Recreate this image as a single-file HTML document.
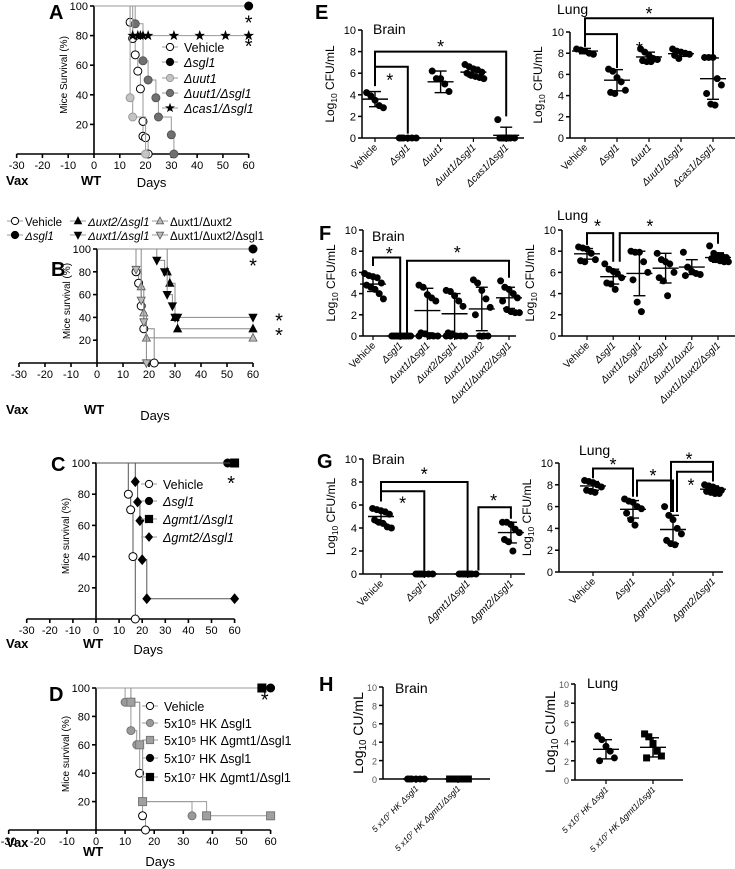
<!DOCTYPE html>
<html><head><meta charset="utf-8">
<style>
html,body{margin:0;padding:0;background:#fff;}
svg{display:block;font-family:"Liberation Sans",Arial,sans-serif;}
</style></head>
<body>
<svg id="fig" width="735" height="869" viewBox="0 0 735 869" xmlns="http://www.w3.org/2000/svg">
<g font-weight="bold" font-size="20" fill="#000">
<text x="49" y="19">A</text>
<text x="51" y="276">B</text>
<text x="51" y="471">C</text>
<text x="49" y="701">D</text>
<text x="315" y="19">E</text>
<text x="319" y="240">F</text>
<text x="317" y="468">G</text>
<text x="319" y="691">H</text>
</g>
</svg>
<script>
// ===== Survival data =====
const daysTicks = [-30,-20,-10,0,10,20,30,40,50,60];
const survTicks = [20,40,60,80,100];
// Panel A
const aNames = ["Vehicle","Δsgl1","Δuut1","Δuut1/Δsgl1","Δcas1/Δsgl1"];
const aVehT = [0,14,15,16,17,18,19,19,20,21], aVehV = [100,89,78,67,56,44,22,12,11,0];
const aSglT = [0,60], aSglV = [100,100];
const aUutT = [0,14,15,20], aUutV = [100,38,25,0];
const aUsT = [0,16,19,21,24,25,30,31], aUsV = [100,88,63,50,38,25,13,0];
const aCasT = [0,15,17,18,19,21,31,41,51,60], aCasV = [100,80,80,80,80,80,80,80,80,80];
// Panel B
const bNames = ["Vehicle","Δsgl1","Δuxt2/Δsgl1","Δuxt1/Δsgl1","Δuxt1/Δuxt2","Δuxt1/Δuxt2/Δsgl1"];
const bVehT = [0,15,16,17,18,22], bVehV = [100,80,70,50,30,0];
const bSglT = [0,60], bSglV = [100,100];
const bU2sT = [0,27,28,30,31,60], bU2sV = [100,80,70,40,30,30];
const bU1sT = [0,23,26,27,29,30,31,60], bU1sV = [100,90,80,60,50,40,40,40];
const bU12T = [0,17,18,19,60], bU12V = [100,67,44,22,22];
const bU12sT = [0,15,17,18,19], bU12sV = [100,82,55,36,0];
// Panel C
const cNames = ["Vehicle","Δsgl1","Δgmt1/Δsgl1","Δgmt2/Δsgl1"];
const cVehT = [0,14,15,16,17], cVehV = [100,80,70,40,0];
const cSglT = [0,57], cSglV = [100,100];
const cG1T = [0,60], cG1V = [100,100];
const cG2T = [0,17,18,19,20,22,60], cG2V = [100,88,75,63,38,13,13];
// Panel D
const dNames = ["Vehicle","5x10⁵ HK Δsgl1","5x10⁵ HK Δgmt1/Δsgl1","5x10⁷ HK Δsgl1","5x10⁷ HK  Δgmt1/Δsgl1"];
const dVehT = [0,12,15,16,17], dVehV = [100,90,40,10,0];
const dLsT = [0,10,12,14,16,33], dLsV = [100,90,70,60,20,10];
const dLgT = [0,12,15,16,38,60], dLgV = [100,90,60,20,10,10];
const dHsT = [0,60], dHsV = [100,100];
const dHgT = [0,57], dHgV = [100,100];

// ===== CFU data =====
const eBrainCats = ["Vehicle","Δsgl1","Δuut1","Δuut1/Δsgl1","Δcas1/Δsgl1"];
const eBrainPts = [[4.2,3.9,3.5,3.0,2.8],[0,0,0,0,0,0],[6.2,5.5,5.5,5.0,4.3],[6.8,6.6,6.4,6.3,6.1,6.0,5.8,5.7,5.6,5.5],[1.7,0,0,0,0,0,0,0]];
const eBrainMean = [3.6,0,5.2,6.1,0.25], eBrainSD = [0.7,0,1.0,0.45,0.75];
const eLungCats = eBrainCats;
const eLungPts = [[8.4,8.3,8.2,8.0,7.9],[6.5,6.3,5.7,5.3,4.5,4.3,4.2],[8.4,8.1,7.8,7.5,7.4,7.3,7.2,7.2],[8.4,8.2,8.1,8.0,7.9,7.8,7.5],[7.6,7.6,7.6,5.6,5.0,4.2,3.2,3.1]];
const eLungMean = [8.2,5.45,7.65,7.95,5.6], eLungSD = [0.25,1.0,0.45,0.25,1.95];

const fBrainCats = ["Vehicle","Δsgl1","Δuxt1/Δsgl1","Δuxt2/Δsgl1","Δuxt1/Δuxt2","Δuxt1/Δuxt2/Δsgl1"];
const fBrainPts = [[5.9,5.7,5.6,5.5,5.0,4.8,4.6,4.4,4.0,3.5],[0,0,0,0,0,0,0,0,0,0],[4.8,4.6,3.9,3.6,3.3,0.3,0.2,0,0,0,0],[4.3,4.2,3.8,3.3,2.8,0.3,0.2,0,0,0,0,0],[5.3,5.0,4.3,3.5,2.7,2.0,0,0,0],[5.2,4.6,4.4,4.0,3.6,3.3,2.5,2.3,2.2,2.2]];
const fBrainMean = [4.9,0,2.4,2.1,2.55,3.6], fBrainSD = [0.7,0,2.1,1.9,2.05,1.0];
const fLungCats = fBrainCats;
const fLungPts = [[8.4,8.3,8.2,7.8,7.2,7.1,7.0],[6.8,6.3,6.1,5.9,5.5,5.0,4.9,4.4],[8.0,7.9,7.9,7.0,6.0,5.3,3.2,2.3],[7.8,7.2,7.0,6.8,6.0,5.5,5.2,3.8],[7.9,6.5,6.1,5.9,5.8,5.7],[8.5,7.8,7.6,7.5,7.4,7.3,7.2,7.1,7.0,7.0]];
const fLungMean = [7.75,5.6,5.9,6.4,6.5,7.4], fLungSD = [0.5,0.7,2.1,1.4,0.7,0.45];

const gBrainCats = ["Vehicle","Δsgl1","Δgmt1/Δsgl1","Δgmt2/Δsgl1"];
const gBrainPts = [[5.7,5.6,5.5,5.4,5.2,4.7,4.5,4.4,4.1,4.0],[0,0,0,0,0,0,0],[0,0,0,0,0,0,0,0],[4.5,4.5,4.3,3.9,3.6,3.0,2.8,2.0]];
const gBrainMean = [5.0,0,0,3.6], gBrainSD = [0.6,0,0,0.9];
const gLungCats = gBrainCats;
const gLungPts = [[8.4,8.3,8.2,8.0,7.8,7.5,7.4,7.3],[6.7,6.5,6.4,6.0,5.8,5.4,4.8,4.3],[6.0,5.2,4.8,4.0,3.5,2.9,2.6,2.5],[8.0,7.9,7.8,7.6,7.5,7.4,7.3,7.2,7.2]];
const gLungMean = [7.9,5.75,3.9,7.6], gLungSD = [0.4,0.8,1.3,0.3];

const hCats = ["5 x10⁷ HK Δsgl1","5 x10⁷ HK Δgmt1/Δsgl1"];
const hBrainPts = [[0,0,0,0,0,0],[0,0,0,0,0,0,0,0,0,0]];
const hBrainMean = [0,0], hBrainSD = [0,0];
const hLungPts = [[4.6,4.2,3.5,3.0,2.3,2.0],[4.8,4.5,3.8,3.0,2.5,2.3]];
const hLungMean = [3.2,3.4], hLungSD = [1.0,1.0];
const cfuTicks = [0,2,4,6,8,10];

// ===== helpers =====
const NS = "http://www.w3.org/2000/svg";
const svg = document.getElementById("fig");
function mk(tag, attrs, parent) {
  const e = document.createElementNS(NS, tag);
  for (const k in attrs) e.setAttribute(k, attrs[k]);
  (parent || svg).appendChild(e);
  return e;
}
function txt(s, x, y, size, parent, extra) {
  const t = mk("text", Object.assign({x: x, y: y, "font-size": size}, extra || {}), parent);
  t.textContent = s;
  return t;
}

function marker(g, kind, cx, cy, r) {
  let e;
  const S = {
    open: ["circle", "#fff", "#000"], black: ["circle", "#000", "#000"], lgray: ["circle", "#c4c4c4", "#999"],
    dgray: ["circle", "#707070", "#555"], mgray: ["circle", "#9a9a9a", "#777"],
    sq: ["rect", "#000", "#000"], gsq: ["rect", "#a0a0a0", "#777"],
    tri: ["tri", "#000", "#000"], tridn: ["tridn", "#000", "#000"], gtri: ["tri", "#bbb", "#555"], gtridn: ["tridn", "#bbb", "#555"],
    dia: ["dia", "#000", "#000"], star: ["star", "#000", "#000"]
  }[kind];
  if (S[0] === "circle") e = mk("circle", {cx: cx, cy: cy, r: r, fill: S[1], stroke: S[2], "stroke-width": 1}, g);
  else if (S[0] === "rect") e = mk("rect", {x: cx - r, y: cy - r, width: 2 * r, height: 2 * r, fill: S[1], stroke: S[2], "stroke-width": 1}, g);
  else {
    let pts = [];
    if (S[0] === "tri") pts = [[0, -r * 1.1], [r, r * 0.8], [-r, r * 0.8]];
    if (S[0] === "tridn") pts = [[0, r * 1.1], [r, -r * 0.8], [-r, -r * 0.8]];
    if (S[0] === "dia") pts = [[0, -r * 1.2], [r, 0], [0, r * 1.2], [-r, 0]];
    if (S[0] === "star") for (let i = 0; i < 10; i++) { const a = -Math.PI / 2 + i * Math.PI / 5; const rr = i % 2 ? r * 0.45 : r * 1.1; pts.push([rr * Math.cos(a), rr * Math.sin(a)]); }
    e = mk("polygon", {points: pts.map(p => (cx + p[0]).toFixed(1) + "," + (cy + p[1]).toFixed(1)).join(" "), fill: S[1], stroke: S[2], "stroke-width": 0.8}, g);
  }
  
  
  return e;
}

function survivalPanel(cfg) {
  const g = mk("g", {});
  
  
  const X = d => cfg.x0 + d * cfg.ppd;
  const Y = v => cfg.yBot - (v / 100) * (cfg.yBot - cfg.yTop);
  const ax = mk("g", {stroke: "#000", "stroke-width": 1.6, fill: "none"}, g);
  
  
  mk("line", {x1: X(-30), y1: cfg.yBot, x2: X(60), y2: cfg.yBot}, ax);
  mk("line", {x1: X(0), y1: cfg.yBot, x2: X(0), y2: Y(100)}, ax);
  daysTicks.forEach(d => {
    mk("line", {x1: X(d), y1: cfg.yBot, x2: X(d), y2: cfg.yBot + 4}, ax);
    const t = txt(String(d), X(d), cfg.yBot + 15, 11, g, {"text-anchor": "middle"});
    
    
  });
  survTicks.forEach(v => {
    mk("line", {x1: X(0) - 4, y1: Y(v), x2: X(0), y2: Y(v)}, ax);
    const t = txt(String(v), X(0) - 6, Y(v) + 4, 11, g, {"text-anchor": "end"});
    
    
  });
  const yt = txt(cfg.ytitle, 0, 0, 10, g, {"text-anchor": "middle", transform: "translate(" + (X(0) - 27) + "," + ((cfg.yTop + cfg.yBot) / 2 - 5) + ") rotate(-90)"});
  
  
  const vx = txt("Vax", 6, cfg.labY, 13, g, {"font-weight": "bold"});
  
  
  const wt = txt("WT", X(0) - 13, cfg.wtY || cfg.labY, 13, g, {"font-weight": "bold"});
  
  
  const dy = txt("Days", X(20) + 6, cfg.daysY, 13, g, {"text-anchor": "middle"});
  
  
  cfg.series.forEach(s => {
    let d = "M" + X(s.t[0]) + "," + Y(s.v[0]);
    for (let i = 1; i < s.t.length; i++) d += " H" + X(s.t[i]).toFixed(1) + " V" + Y(s.v[i]).toFixed(1);
    const p = mk("path", {d: d, fill: "none", stroke: cfg.lineColor, "stroke-width": 1}, g);
    
    
    for (let i = 1; i < s.t.length; i++) {
      marker(g, s.m, X(s.t[i]), Y(s.v[i]), 4);
    }
  });
  const fs = cfg.legSize || 13;
  cfg.legend.forEach((l, i) => {
    const lx = l.x, ly = l.y;
    mk("line", {x1: lx - 8, y1: ly, x2: lx + 8, y2: ly, stroke: "#999", "stroke-width": 1}, g);
    marker(g, l.m, lx, ly, 3.6);
    const t = txt(l.label, lx + (cfg.legGap || 13), ly + 5, fs, g, l.italic ? {"font-style": "italic"} : {});
    
    
  });
  cfg.stars.forEach(s => {
    const t = txt("*", X(s[0]), Y(s[1]) + 10, 20, g, {"text-anchor": "middle"});
    
    
  });
}

function cfuPanel(cfg) {
  const g = mk("g", {});
  
  
  const n = cfg.cats.length;
  const X = i => cfg.c0 + i * cfg.step;
  const Y = v => cfg.yBot - (v / 10) * (cfg.yBot - cfg.yTop);
  const ax = mk("g", {stroke: "#000", "stroke-width": 1.5, fill: "none"}, g);
  
  
  mk("line", {x1: cfg.ax, y1: cfg.yBot, x2: cfg.xEnd, y2: cfg.yBot}, ax);
  mk("line", {x1: cfg.ax, y1: cfg.yBot, x2: cfg.ax, y2: cfg.yTop}, ax);
  cfuTicks.forEach(v => {
    mk("line", {x1: cfg.ax - 4, y1: Y(v), x2: cfg.ax, y2: Y(v)}, ax);
    const t = txt(String(v), cfg.ax - 6, Y(v) + 4, cfg.tickSize, g, {"text-anchor": "end", fill: cfg.tickColor});
    
    
  });
  const yt = mk("text", {"font-size": cfg.ytSize, "text-anchor": "middle", transform: "translate(" + (cfg.ax - cfg.ytOff) + "," + ((cfg.yTop + cfg.yBot) / 2) + ") rotate(-90)"}, g);
  yt.innerHTML = 'Log<tspan font-size="' + (cfg.ytSize * 0.7) + '" dy="3">10</tspan><tspan dy="-3"> ' + cfg.unit + '</tspan>';
  
  
  const ti = txt(cfg.title, cfg.titleX, cfg.titleY, 14, g);
  
  
  for (let i = 0; i < n; i++) {
    const cx = X(i);
    mk("line", {x1: cx, y1: cfg.yBot, x2: cx, y2: cfg.yBot + 4, stroke: "#000", "stroke-width": 1.2}, g);
    const lab = txt(cfg.cats[i], 0, 0, cfg.catSize, g, {"text-anchor": "end", transform: "translate(" + (cx + 3) + "," + (cfg.yBot + 10) + ") rotate(-45)"});
    if (i > 0 || cfg.cats[i] !== "Vehicle") lab.setAttribute("font-style", "italic");
    
    
    const pts = cfg.pts[i];
    pts.forEach((v, j) => {
      const off = ((j % 5) - 2) * 4.2 + (Math.floor(j / 5) % 2 ? 2 : 0);
      marker(g, (cfg.sqGroup === i) ? "sq" : "black", cx + off, Y(v), 3);
    });
    const m = cfg.mean[i], sd = cfg.sd[i];
    const eb = mk("g", {stroke: "#000", "stroke-width": 1.4}, g);
    
    
    mk("line", {x1: cx - 13, y1: Y(m), x2: cx + 13, y2: Y(m)}, eb);
    if (sd > 0) {
      mk("line", {x1: cx, y1: Y(Math.max(0, m - sd)), x2: cx, y2: Y(m + sd)}, eb);
      mk("line", {x1: cx - 6, y1: Y(m + sd), x2: cx + 6, y2: Y(m + sd)}, eb);
      if (m - sd > 0) mk("line", {x1: cx - 6, y1: Y(m - sd), x2: cx + 6, y2: Y(m - sd)}, eb);
    }
  }
  (cfg.brackets || []).forEach(b => {
    const p = mk("path", {d: "M" + X(b[0]) + "," + Y(b[3]) + " V" + Y(b[2]) + " H" + X(b[1]) + " V" + Y(b[4]), fill: "none", stroke: b[7] || "#000", "stroke-width": 2}, g);
    
    
    const t = txt("*", X(b[5]), Y(b[6]) + 9, 18, g, {"text-anchor": "middle"});
    
    
  });
}

// ===== draw survival panels =====
survivalPanel({name: "panel-a-survival", x0: 94, ppd: 2.578, yTop: 6, yBot: 154, lineColor: "#999", ytitle: "Mice Survival (%)", labY: 185, daysY: 187, legSize: 12.5, legGap: 14,
  series: [{t: aVehT, v: aVehV, m: "open"}, {t: aSglT, v: aSglV, m: "black"}, {t: aUutT, v: aUutV, m: "lgray"}, {t: aUsT, v: aUsV, m: "dgray"}, {t: aCasT, v: aCasV, m: "star"}],
  legend: [{x: 170, y: 47, m: "open", label: aNames[0]}, {x: 170, y: 62, m: "black", label: aNames[1], italic: 1}, {x: 170, y: 78, m: "lgray", label: aNames[2], italic: 1}, {x: 170, y: 93, m: "dgray", label: aNames[3], italic: 1}, {x: 170, y: 108, m: "star", label: aNames[4], italic: 1}],
  stars: [[60, 91], [60, 75]]});
survivalPanel({name: "panel-b-survival", x0: 97, ppd: 2.6, yTop: 249, yBot: 363, lineColor: "#888", ytitle: "Mice survival (%)", labY: 414, daysY: 420, legSize: 11.5, legGap: 10,
  series: [{t: bVehT, v: bVehV, m: "open"}, {t: bSglT, v: bSglV, m: "black"}, {t: bU2sT, v: bU2sV, m: "tri"}, {t: bU1sT, v: bU1sV, m: "tridn"}, {t: bU12T, v: bU12V, m: "gtri"}, {t: bU12sT, v: bU12sV, m: "gtridn"}],
  legend: [{x: 15, y: 221, m: "open", label: bNames[0]}, {x: 15, y: 235, m: "black", label: bNames[1], italic: 1}, {x: 78, y: 221, m: "tri", label: bNames[2], italic: 1}, {x: 78, y: 235, m: "tridn", label: bNames[3], italic: 1}, {x: 160, y: 221, m: "gtri", label: bNames[4]}, {x: 160, y: 235, m: "gtridn", label: bNames[5]}],
  stars: [[60, 88], [70, 40], [70, 27]]});
survivalPanel({name: "panel-c-survival", x0: 96, ppd: 2.31, yTop: 463, yBot: 619, lineColor: "#555", ytitle: "Mice survival (%)", labY: 648, daysY: 654, legSize: 12.5, legGap: 14,
  series: [{t: cVehT, v: cVehV, m: "open"}, {t: cSglT, v: cSglV, m: "black"}, {t: cG1T, v: cG1V, m: "sq"}, {t: cG2T, v: cG2V, m: "dia"}],
  legend: [{x: 149, y: 484, m: "open", label: cNames[0]}, {x: 149, y: 501, m: "black", label: cNames[1], italic: 1}, {x: 149, y: 519, m: "sq", label: cNames[2], italic: 1}, {x: 149, y: 537, m: "dia", label: cNames[3], italic: 1}],
  stars: [[58.5, 89]]});
survivalPanel({name: "panel-d-survival", x0: 96, ppd: 2.91, yTop: 688, yBot: 830, lineColor: "#999", ytitle: "Mice survival (%)", labY: 847, wtY: 856, daysY: 866, legSize: 12.5, legGap: 14,
  series: [{t: dVehT, v: dVehV, m: "open"}, {t: dLsT, v: dLsV, m: "mgray"}, {t: dLgT, v: dLgV, m: "gsq"}, {t: dHsT, v: dHsV, m: "black"}, {t: dHgT, v: dHgV, m: "sq"}],
  legend: [{x: 150, y: 706, m: "open", label: dNames[0]}, {x: 150, y: 723, m: "mgray", label: dNames[1]}, {x: 150, y: 740, m: "gsq", label: dNames[2]}, {x: 150, y: 758, m: "black", label: dNames[3]}, {x: 150, y: 777, m: "sq", label: dNames[4]}],
  stars: [[58, 94]]});

// ===== draw CFU panels =====
const base = {tickSize: 11, tickColor: "#000", ytSize: 12, ytOff: 28, catSize: 10, unit: "CFU/mL"};
cfuPanel(Object.assign({}, base, {name: "panel-e-brain", ax: 362, xEnd: 524, yTop: 30, yBot: 138, c0: 375, step: 32.8, cats: eBrainCats, pts: eBrainPts, mean: eBrainMean, sd: eBrainSD, title: "Brain", titleX: 373, titleY: 34,
  brackets: [[0, 1, 6.6, 4.8, 0.4, 0.45, 5.6], [0, 4, 8.0, 6.6, 2.0, 2.0, 8.7]]}));
cfuPanel(Object.assign({}, base, {name: "panel-e-lung", ax: 570, xEnd: 735, yTop: 32, yBot: 138, c0: 585, step: 32, cats: eLungCats, pts: eLungPts, mean: eLungMean, sd: eLungSD, title: "Lung", titleX: 557, titleY: 14,
  brackets: [[0, 1, 9.8, 8.6, 6.6, 1.7, 8.7], [0, 4, 11.3, 9.8, 7.8, 2.0, 12.0]]}));
cfuPanel(Object.assign({}, base, {name: "panel-f-brain", ax: 363, xEnd: 516, yTop: 230, yBot: 336, c0: 373, step: 27.2, cats: fBrainCats, pts: fBrainPts, mean: fBrainMean, sd: fBrainSD, title: "Brain", titleX: 372, titleY: 241,
  brackets: [[0, 1, 7.4, 6.6, 0.3, 0.6, 8.0], [1.25, 5, 7.1, 0.3, 5.5, 3.1, 8.1]]}));
cfuPanel(Object.assign({}, base, {name: "panel-f-lung", ax: 562, xEnd: 735, yTop: 230, yBot: 336, c0: 587, step: 26.2, cats: fLungCats, pts: fLungPts, mean: fLungMean, sd: fLungSD, title: "Lung", titleX: 557, titleY: 220,
  brackets: [[0, 1, 9.7, 8.6, 7.0, 0.4, 10.6], [1.25, 5, 9.7, 7.0, 8.7, 2.4, 10.6]]}));
cfuPanel(Object.assign({}, base, {name: "panel-g-brain", ax: 363, xEnd: 525, yTop: 459, yBot: 574, c0: 381, step: 43.3, cats: gBrainCats, pts: gBrainPts, mean: gBrainMean, sd: gBrainSD, title: "Brain", titleX: 372, titleY: 464,
  brackets: [[0, 1, 7.2, 6.3, 0.3, 0.5, 6.4], [0, 2, 8.0, 7.2, 0.3, 1.0, 8.9], [2.25, 3, 5.8, 0.3, 4.8, 2.6, 6.6]]}));
cfuPanel(Object.assign({}, base, {name: "panel-g-lung", ax: 559, xEnd: 723, yTop: 463, yBot: 572, c0: 593, step: 40, cats: gLungCats, pts: gLungPts, mean: gLungMean, sd: gLungSD, title: "Lung", titleX: 579, titleY: 455,
  brackets: [[0, 1, 9.5, 8.6, 6.9, 0.5, 10.1], [1.1, 2, 8.4, 6.9, 5.5, 1.5, 9.1], [1.95, 3, 10.1, 5.5, 8.3, 2.4, 10.6], [2.1, 3, 9.2, 5.5, 8.3, 2.45, 8.2]]}));
const hbase = {tickSize: 9, tickColor: "#555", ytSize: 14, ytOff: 20, catSize: 8.5, unit: "CU/mL"};
cfuPanel(Object.assign({}, hbase, {name: "panel-h-brain", ax: 383, xEnd: 490, yTop: 687, yBot: 779, c0: 416, step: 42, cats: hCats, pts: hBrainPts, mean: hBrainMean, sd: hBrainSD, title: "Brain", titleX: 395, titleY: 693, sqGroup: 1}));
cfuPanel(Object.assign({}, hbase, {name: "panel-h-lung", ax: 575, xEnd: 683, yTop: 684, yBot: 780, c0: 606, step: 47, cats: hCats, pts: hLungPts, mean: hLungMean, sd: hLungSD, title: "Lung", titleX: 587, titleY: 688, sqGroup: 1}));
</script>
</body></html>
